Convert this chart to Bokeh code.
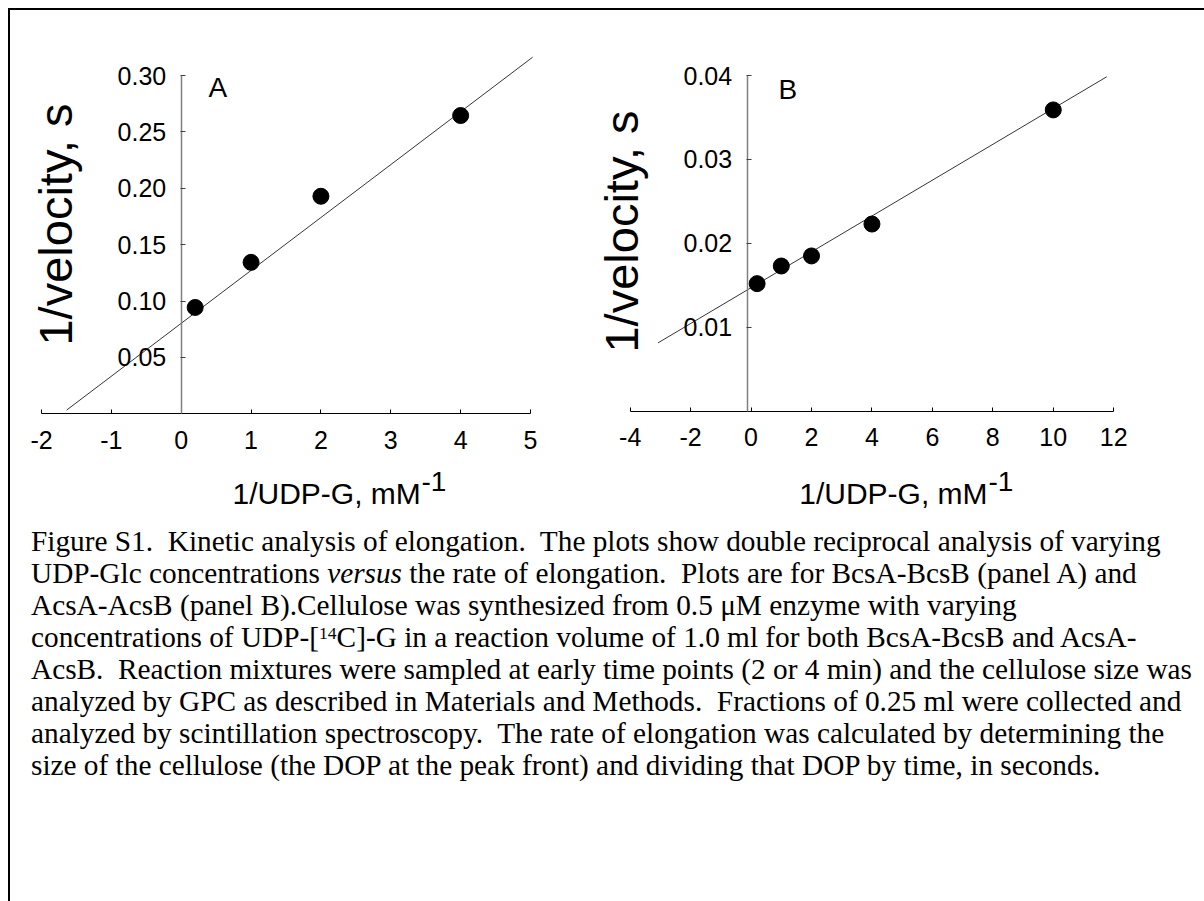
from math import pi
from bokeh.plotting import figure
from bokeh.models import FixedTicker, Label, Div
from bokeh.layouts import row, column
from bokeh.embed import file_html
from bokeh.resources import INLINE

# ---------------- data ----------------
# Panel A  (BcsA-BcsB)
a_x = [0.2, 1, 2, 4]
a_y = [0.0943, 0.1343, 0.1929, 0.2645]
a_fit_x = [-1.64, 5.03]
a_fit_y = [0.0033, 0.3162]
a_xticks = [-2, -1, 0, 1, 2, 3, 4, 5]
a_yticks = [0.05, 0.10, 0.15, 0.20, 0.25, 0.30]
a_yticklabels = ["0.05", "0.10", "0.15", "0.20", "0.25", "0.30"]

# Panel B  (AcsA-AcsB)
b_x = [0.2, 1, 2, 4, 10]
b_y = [0.0152, 0.0173, 0.0185, 0.0223, 0.0359]
b_fit_x = [-3.08, 11.77]
b_fit_y = [0.00814, 0.03985]
b_xticks = [-4, -2, 0, 2, 4, 6, 8, 10, 12]
b_yticks = [0.01, 0.02, 0.03, 0.04]
b_yticklabels = ["0.01", "0.02", "0.03", "0.04"]

y_title = "1/velocity, s"
x_title = "1/UDP-G, mM"
x_title_sup = "-1"

caption_lines = [
    "Figure S1.&nbsp; Kinetic analysis of elongation.&nbsp; The plots show double reciprocal analysis of varying",
    "UDP-Glc concentrations <i>versus</i> the rate of elongation.&nbsp; Plots are for BcsA-BcsB (panel A) and",
    "AcsA-AcsB (panel B).Cellulose was synthesized from 0.5 \u03bcM enzyme with varying",
    "concentrations of UDP-[<span style='position:relative;top:-0.45em;font-size:0.6em;line-height:0'>14</span>C]-G in a reaction volume of 1.0 ml for both BcsA-BcsB and AcsA-",
    "AcsB.&nbsp; Reaction mixtures were sampled at early time points (2 or 4 min) and the cellulose size was",
    "analyzed by GPC as described in Materials and Methods.&nbsp; Fractions of 0.25 ml were collected and",
    "analyzed by scintillation spectroscopy.&nbsp; The rate of elongation was calculated by determining the",
    "size of the cellulose (the DOP at the peak front) and dividing that DOP by time, in seconds.",
]

SANS = "Liberation Sans"
TOP = 10          # page y of the figures' top edge
ROW_H = 510       # height of the two chart figures
K = 0.4           # renderer baseline correction (fraction of font size)


def make_panel(xs, ys, fx, fy, xticks, yticks, ylabels, x_bounds, y_bounds,
               yaxis_at, box_left, box_w, xanchor, yanchor, letter, pos):
    # xanchor: ((value, page_x), (value, page_x)); yanchor likewise for y
    (xv0, px0), (xv1, px1) = xanchor
    (yv0, py0), (yv1, py1) = yanchor
    sx = (px1 - px0) / (xv1 - xv0)
    sy = (py0 - py1) / (yv1 - yv0)
    x_start = xv0 - (px0 - box_left) / sx
    x_end = x_start + box_w / sx
    y_start = yv0 - (TOP + ROW_H - py0) / sy
    y_end = y_start + ROW_H / sy

    def d(px, py):
        return x_start + (px - box_left) / sx, y_start + (TOP + ROW_H - py) / sy

    p = figure(x_range=(x_start, x_end), y_range=(y_start, y_end),
               frame_width=box_w, frame_height=ROW_H,
               min_border_left=0, min_border_right=0, min_border_top=0,
               min_border_bottom=0, output_backend="svg",
               toolbar_location=None, title=None)
    p.grid.visible = False
    p.outline_line_color = None
    p.background_fill_color = "white"
    p.border_fill_color = "white"

    xa = p.xaxis[0]
    xa.fixed_location = 0
    xa.bounds = x_bounds
    xa.ticker = FixedTicker(ticks=xticks)
    xa.major_label_overrides = {t: str(t) for t in xticks}
    xa.minor_tick_line_color = None
    xa.major_tick_in = 4
    xa.major_tick_out = 0
    xa.axis_line_color = "black"
    xa.axis_line_width = 1.2
    xa.major_tick_line_color = "black"
    xa.major_label_standoff = 17
    xa.major_label_text_font = SANS
    xa.major_label_text_font_size = "25px"
    xa.major_label_text_color = "black"

    ya = p.yaxis[0]
    ya.fixed_location = yaxis_at
    ya.bounds = y_bounds
    ya.ticker = FixedTicker(ticks=yticks)
    ya.major_label_overrides = dict(zip(yticks, ylabels))
    ya.minor_tick_line_color = None
    ya.major_tick_in = 4
    ya.major_tick_out = 1
    ya.axis_line_color = "#808080"
    ya.axis_line_width = 1.5
    ya.major_tick_line_color = "#404040"
    ya.major_label_standoff = 14
    ya.major_label_text_font = SANS
    ya.major_label_text_font_size = "25px"
    ya.major_label_text_color = "black"

    p.line(fx, fy, line_color="black", line_width=0.8)
    p.scatter(xs, ys, size=16, marker="circle", fill_color="black",
              line_color="black")

    def add_text(text, px, py, size, angle=0.0, align="left"):
        # (px, py): wanted page position of the text baseline
        if angle == 0.0:
            py = py - K * size
        else:
            px = px - K * size
        x, y = d(px, py)
        p.add_layout(Label(x=x, y=y, text=text, angle=angle, text_font=SANS,
                           text_font_size=f"{size}px", text_align=align,
                           text_baseline="alphabetic", text_color="black"))

    add_text(letter, *pos["letter"], 28)
    add_text(y_title, *pos["ytitle"], 47, angle=pi / 2, align="center")
    add_text(x_title, *pos["xtitle"], 30)
    add_text(x_title_sup, *pos["sup"], 28)
    return p


pA = make_panel(a_x, a_y, a_fit_x, a_fit_y, a_xticks, a_yticks, a_yticklabels,
                (-2, 5), (0, 0.30), 0, 10, 580,
                ((-2, 41.0), (5, 530.0)), ((0, 413.3), (0.30, 75.0)), "A",
                {"letter": (208, 98.5), "ytitle": (74, 224),
                 "xtitle": (232, 504.5), "sup": (421, 491.7)})

pB = make_panel(b_x, b_y, b_fit_x, b_fit_y, b_xticks, b_yticks, b_yticklabels,
                (-4, 12), (0, 0.04), -0.13, 590, 612,
                ((-4, 629.7), (12, 1113.2)), ((0, 410.7), (0.04, 75.0)), "B",
                {"letter": (778, 100), "ytitle": (640, 231),
                 "xtitle": (798.7, 504.5), "sup": (988, 491.7)})

caption_html = (
    "<div style=\"font-family:'Liberation Serif',serif;font-size:29.3px;"
    "line-height:32px;white-space:nowrap;color:black;padding:0 0 0 16px;\">"
    + "<br>".join(caption_lines) + "</div>"
)
caption = Div(text=caption_html, width=1192, height=380)

layout = column(
    row(pA, pB),
    caption,
    margin=(8, 0, 0, 8),
    styles={"border-top": "2px solid black", "border-left": "2px solid black",
            "background-color": "white"},
)

open("out.html", "w").write(file_html(layout, INLINE))
